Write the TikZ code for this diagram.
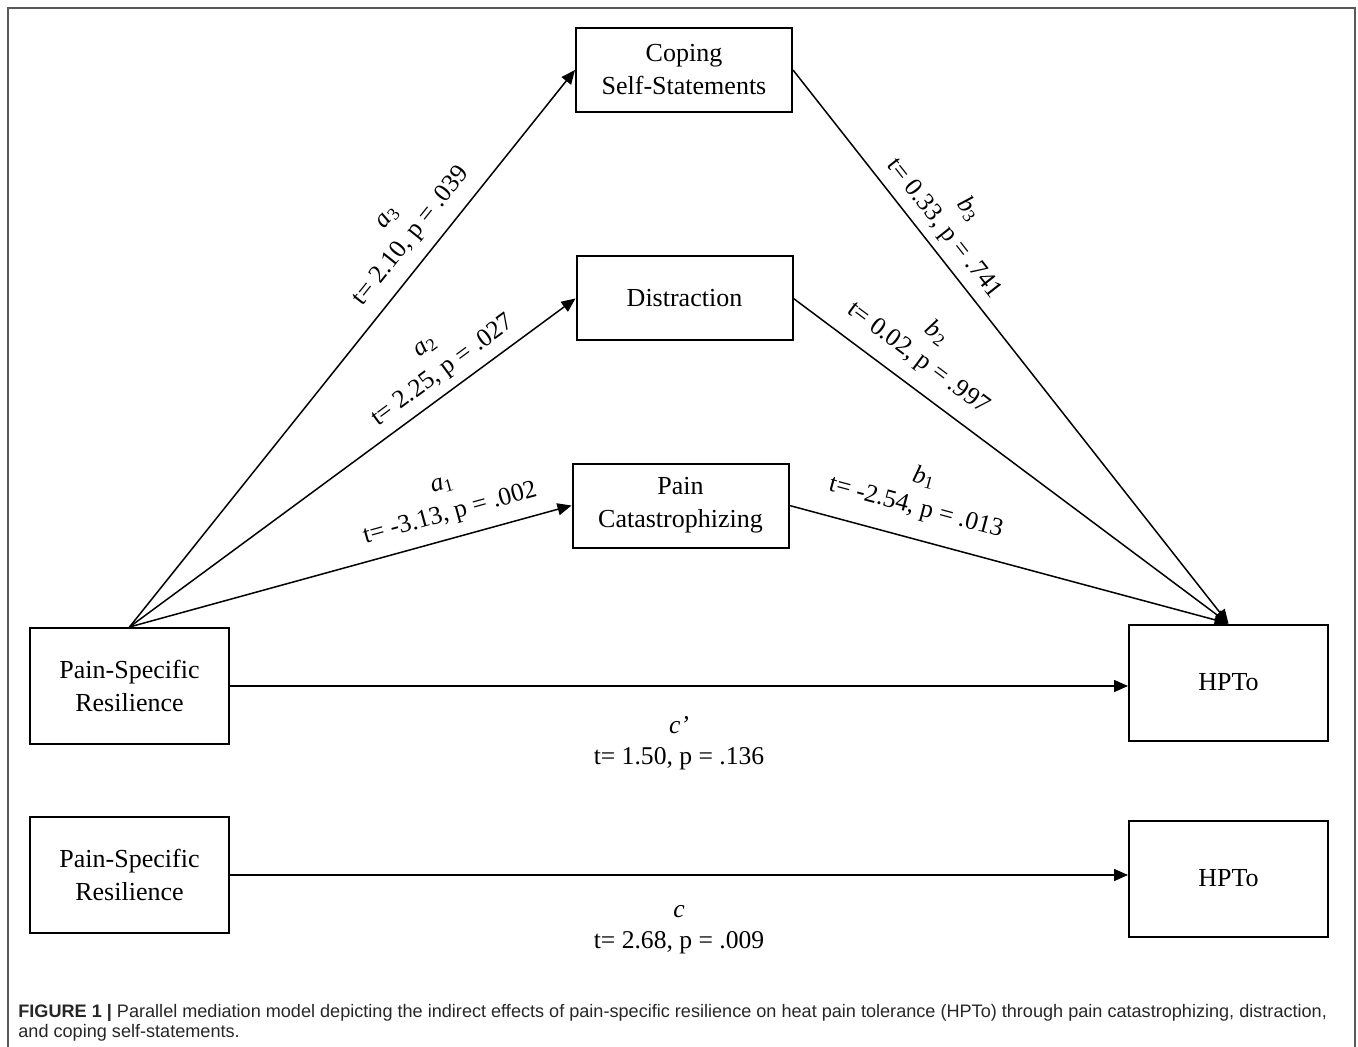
\documentclass[tikz,border=0pt]{standalone}
\usepackage{fontspec}
\setmainfont{Liberation Serif}
\newfontfamily\captionfont{Liberation Sans}
\usepackage{tikz}
\usetikzlibrary{positioning, arrows.meta}
\tikzstyle{box} = [rectangle, draw=black, line width=1pt, minimum width=108pt, minimum height=42pt, align=center, font=\fontsize{13}{16.5}\selectfont]
\tikzstyle{endbox} = [box, minimum width=99.5pt, minimum height=58pt]
\tikzstyle{coef} = [align=center, font=\fontsize{12.8}{15.5}\selectfont, inner sep=1pt]
\tikzstyle{arrow} = [line width=0.75pt, ->, >={Triangle[length=7pt, width=6pt]}]
\tikzstyle{frame} = [line width=1pt, draw=black!65]
\tikzstyle{caption} = [anchor=north west, align=left, inner sep=0pt, text=black!85, font=\captionfont\fontsize{9.05}{10.2}\selectfont]

\begin{document}
\begin{tikzpicture}[x=0.5pt, y=-0.5pt]
        \useasboundingbox (0,0) rectangle (1358,1047);
        \draw[frame] (8,1047) -- (8,8) -- (1355,8) -- (1355,1047);

        \node[box]                                  (coping)           at (684,70)      {Coping\\Self-Statements};
        \node[box]                                  (distraction)      at (684.5,298.5) {Distraction};
        \node[box]                                  (catastrophizing)  at (680.5,505.5) {Pain\\Catastrophizing};
        \node[endbox]                               (resilience)       at (129.5,686)   {Pain-Specific\\Resilience};
        \node[endbox]                               (hpto)             at (1228.5,682.5) {HPTo};
        \node[endbox, below=35.5pt of resilience]   (resilience total) {Pain-Specific\\Resilience};
        \node[endbox, below=39pt of hpto]           (hpto total)       {HPTo};

        \draw[arrow] (resilience.north) -- node[coef, sloped, pos=0.675, above=5pt] {\textit{a}\textsubscript{3}\\t= 2.10, p = .039} (coping.west);
        \draw[arrow] (resilience.north) -- node[coef, sloped, pos=0.73, above=3pt] {\textit{a}\textsubscript{2}\\t= 2.25, p = .027} (distraction.west);
        \draw[arrow] (resilience.north) -- node[coef, sloped, pos=0.74, above=5pt] {\textit{a}\textsubscript{1}\\t= -3.13, p = .002} (catastrophizing.west);
        \draw[arrow] (coping.east)          -- node[coef, sloped, pos=0.31, above=3pt] {\textit{b}\textsubscript{3}\\t= 0.33, p = .741} (hpto.north);
        \draw[arrow] (distraction.east)     -- node[coef, sloped, pos=0.25, above=6pt] {\textit{b}\textsubscript{2}\\t= 0.02, p = .997} (hpto.north);
        \draw[arrow] (catastrophizing.east) -- node[coef, sloped, pos=0.27, above=8pt] {\textit{b}\textsubscript{1}\\t= -2.54, p = .013} (hpto.north);
        \draw[arrow] (resilience.east) -- node[coef, below=14pt] {\textit{c’}\\t= 1.50, p = .136} (resilience.east -| hpto.west);
        \draw[arrow] (resilience total.east) -- node[coef, below=14pt] {\textit{c}\\t= 2.68, p = .009} (resilience total.east -| hpto total.west);

        \node[caption] (caption) at (18,1004) {\textbf{FIGURE 1 |} Parallel mediation model depicting the indirect effects of pain-specific resilience on heat pain tolerance (HPTo) through pain catastrophizing, distraction,\\and coping self-statements.};
    \end{tikzpicture}
\end{document}
